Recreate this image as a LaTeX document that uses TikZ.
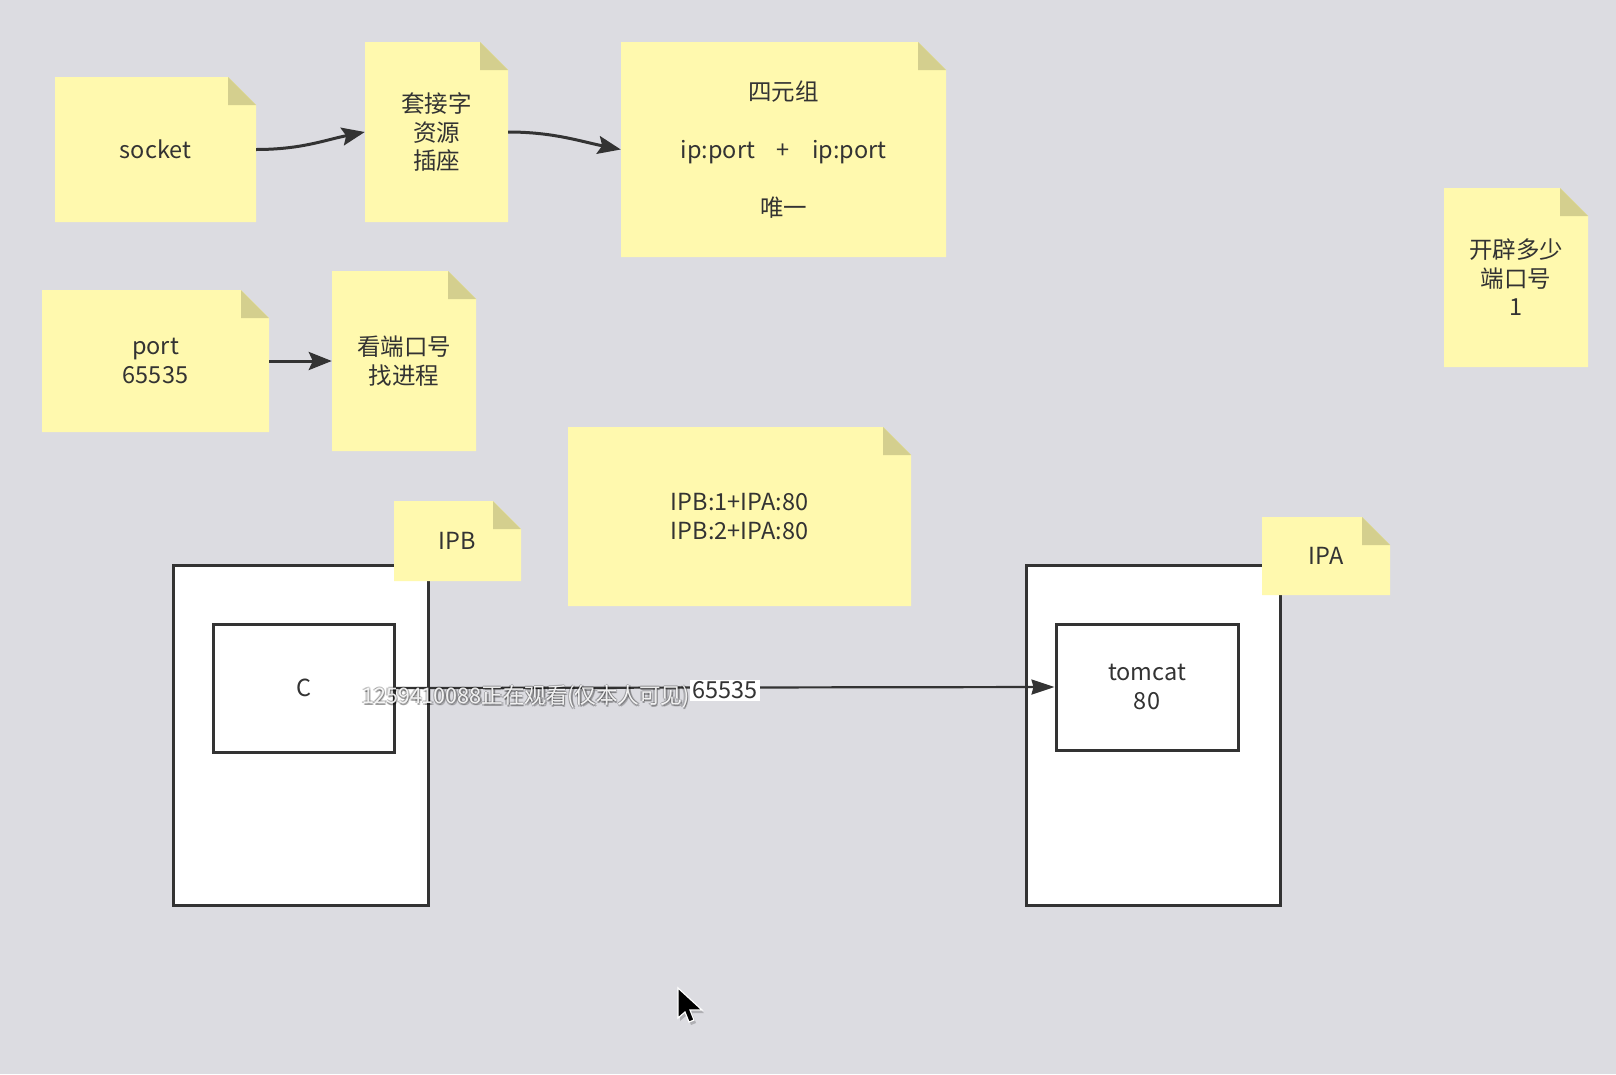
\documentclass[tikz,border=0pt]{standalone}
\usepackage{fontspec}
\setmainfont{Noto Sans CJK SC}
\usetikzlibrary{arrows.meta}
\definecolor{bg}{HTML}{DCDCE1}
\definecolor{notefill}{HTML}{FFF9AE}
\definecolor{foldfill}{HTML}{D4CF8E}
\definecolor{ink}{HTML}{333333}
\tikzset{
  notetext/.style={align=center, text=ink, inner sep=0pt, font=\fontsize{23.5}{28.5}\selectfont},
  boxline/.style={draw=ink, line width=3pt, fill=white},
  conn/.style={draw=ink, line width=3pt, -{Stealth[length=23pt,width=18pt,inset=4pt]}},
  conn2/.style={draw=ink, line width=2.2pt, -{Stealth[length=23pt,width=15pt,inset=2pt]}},
  portlabel/.style={fill=white, text=ink, inner sep=2pt, font=\fontsize{23.5}{26}\selectfont},
  wmtext/.style={font=\fontsize{21.5}{24}\selectfont, inner sep=0pt}
}
% name, left, top, right, bottom, text
\newcommand\stickynote[6]{%
  \fill[notefill] (#2,#3) -- ({#4-28},#3) -- (#4,{#3+28}) -- (#4,#5) -- (#2,#5) -- cycle;
  \fill[foldfill] ({#4-28},#3) -- ({#4-28},{#3+28}) -- (#4,{#3+28}) -- cycle;
  \node[notetext, minimum width={#4-#2}, minimum height={#5-#3}] (#1) at ({(#2+#4)/2},{(#3+#5)/2}) {#6};
}
\newcommand\wmstring{1259410088正在观看(仅本人可见)}
\begin{document}
\begin{tikzpicture}[x=1pt,y=-1pt]
\fill[bg] (0,0) rectangle (1616,1074);
\useasboundingbox (0,0) rectangle (1616,1074);

% top notes
\stickynote{socket}{55}{77}{256}{222}{socket}
\stickynote{tjz}{365}{42}{508}{222}{套接字\\资源\\插座}
\stickynote{syz}{621}{42}{946}{257}{四元组\\[29.5pt]ip:port\hspace{22pt}+\hspace{22pt}ip:port\\[29.5pt]唯一}
\stickynote{port}{42}{290}{269}{432}{port\\65535}
\stickynote{kdk}{332}{271}{476}{451}{看端口号\\找进程}
\stickynote{kp}{1444}{188}{1588}{367}{开辟多少\\端口号\\1}
\stickynote{pairs}{568}{427}{911}{606}{IPB:1+IPA:80\\IPB:2+IPA:80}

% connectors between top notes
\draw[conn] (socket.east) .. controls +(45,0) and +(-40,8) .. (tjz.west);
\draw[conn] (tjz.east) .. controls +(45,0) and +(-40,-8) .. (syz.west);
\draw[conn] (port.east) -- (kdk.west);

% hosts
\node[boxline, minimum width=255pt, minimum height=340pt, inner sep=0pt] (hostB) at (300.5,735) {};
\node[boxline, minimum width=254pt, minimum height=340pt, inner sep=0pt] (hostA) at (1153,735) {};
\node[boxline, notetext, minimum width=181pt, minimum height=128pt] (cli) at (303.5,688) {C};
\node[boxline, notetext, minimum width=182pt, minimum height=126pt] (tomcat) at (1147,687) {tomcat\\80};

\stickynote{ipb}{394}{501}{521}{581}{IPB}
\stickynote{ipa}{1262}{517}{1390}{595}{IPA}

\draw[conn2] (cli.east) -- node[portlabel, pos=0.5, yshift=-3pt] (lbl) {65535} (tomcat.west);

% screen-recording watermark
\foreach \dx/\dy in {-1.5/0,1.5/0,0/-1.5,0/1.5,1.5/1.5}
  \node[wmtext, text=black, opacity=0.22] at ({526+\dx},{697+\dy}) {\wmstring};
\node[wmtext, text=white, opacity=0.9] (wm) at (526,697) {\wmstring};

% mouse cursor
\fill[black, opacity=0.2] (680,991) -- (680,1021) -- (687,1015) -- (691,1025) -- (696,1023) -- (692,1013) -- (704,1013) -- cycle;
\filldraw[fill=black, draw=white, line width=1.2pt, line join=miter] (678,988) -- (678,1018) -- (685,1012) -- (689,1022) -- (694,1020) -- (690,1010) -- (702,1010) -- cycle;
\end{tikzpicture}
\end{document}
